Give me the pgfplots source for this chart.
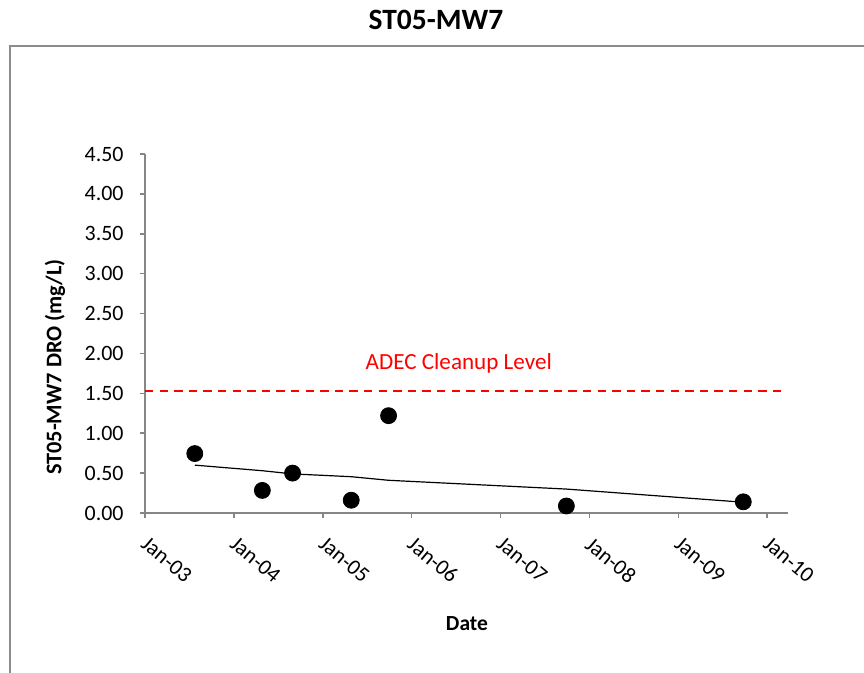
\documentclass[border=0pt]{standalone}
\usepackage{pgfplots}
\pgfplotsset{compat=1.18}
\usepackage{fontspec}
\setmainfont{Carlito}
\definecolor{axgray}{RGB}{134,134,134}
\definecolor{bordergray}{RGB}{140,140,140}
\begin{document}
\begin{tikzpicture}[x=1bp,y=1bp]
\useasboundingbox (0,0) rectangle (432,336.5);
\draw[bordergray, line width=1bp] (5,0) -- (5,313.5) -- (432,313.5);
\node[font=\fontsize{14.8}{17}\selectfont\bfseries] at (218,326.5) {ST05-MW7};
\node[font=\fontsize{10.8}{12}\selectfont\bfseries] at (233.5,24.5) {Date};
\node[font=\fontsize{11.2}{13}\selectfont\bfseries, rotate=90] at (27.5,153) {ST05-MW7 DRO (mg/L)};
\begin{axis}[
  at={(72.5bp,80bp)}, anchor=south west,
  scale only axis, width=321.5bp, height=179.5bp,
  xmin=2003, xmax=2010.233, ymin=0, ymax=4.5,
  axis lines*=left,
  axis line style={axgray, line width=0.9bp},
  tick style={axgray, line width=0.8bp},
  tick align=outside, major tick length=2.5bp,
  xtick={2003,2004,2005,2006,2007,2008,2009,2010},
  xticklabels={Jan-03,Jan-04,Jan-05,Jan-06,Jan-07,Jan-08,Jan-09,Jan-10},
  ytick={0,0.5,1,1.5,2,2.5,3,3.5,4,4.5},
  yticklabels={0.00,0.50,1.00,1.50,2.00,2.50,3.00,3.50,4.00,4.50},
  ticklabel style={font=\fontsize{11}{13}\selectfont, text=black},
  yticklabel style={anchor=east, inner sep=0pt, xshift=-8bp},
  xticklabel style={xshift=2bp, yshift=-8.5bp, rotate=-40, anchor=north west, inner sep=0pt},
  clip=false,
]
\addplot[red, dashed, line width=1.3bp, dash pattern=on 4.2bp off 3.1bp] coordinates {(2003,1.53) (2010.17,1.53)};
\addplot[black, line width=0.6bp] coordinates {
(2003.56,0.60) (2004.32,0.53) (2004.66,0.49) (2005.32,0.455) (2005.74,0.41) (2007.74,0.30) (2009.73,0.135)};
\addplot[only marks, mark=*, mark size=4bp, black] coordinates {
(2003.56,0.745) (2004.32,0.283) (2004.66,0.50) (2005.32,0.16) (2005.74,1.22) (2007.74,0.088) (2009.73,0.14)};
\node[red, font=\fontsize{11.6}{13}\selectfont] at (axis cs:2006.53,1.88) {ADEC Cleanup Level};
\end{axis}
\end{tikzpicture}
\end{document}
